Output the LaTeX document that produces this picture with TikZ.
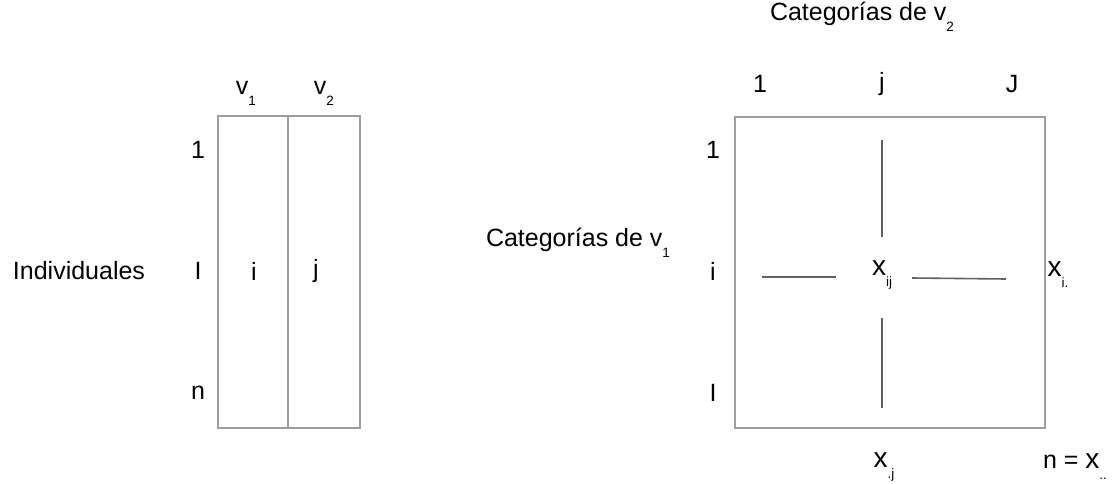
\documentclass[tikz,border=0pt]{standalone}
\usepackage{fontspec}
\setmainfont{Liberation Sans}
\usepackage{tikz}
\tikzset{every picture/.style={line width=0.5pt}}
\tikzset{
  lbl/.style={font=\fontsize{25}{28}\selectfont, inner sep=0pt},
  xlbl/.style={font=\fontsize{28}{30}\selectfont, inner sep=0pt},
  boxline/.style={draw=black!38, line width=1.8pt},
  crossline/.style={draw=black!62, line width=1.6pt}
}
\newcommand{\lowsub}[1]{\raisebox{-11pt}{\fontsize{13.5}{15}\selectfont #1}}

\begin{document}
\begin{tikzpicture}[x=1pt,y=-1pt]
\useasboundingbox (0,0) rectangle (1114,484);
% left table
\draw[boxline] (218,116) rectangle (360,428);
\draw[boxline] (288,116) -- (288,428);
\node[lbl] (v1) at (246,93) {v\lowsub{1}};
\node[lbl] (v2) at (324,93) {v\lowsub{2}};
\node[lbl] (ind) at (79,271) {Individuales};
\node[lbl] (r1) at (198,150) {1};
\node[lbl] (rI) at (198,271) {I};
\node[lbl] (rn) at (198,393) {n};
\node[lbl] (ci) at (254,271) {i};
\node[lbl] (cj) at (316,271) {j};
% right table
\draw[boxline] (735,117) rectangle (1045,428);
\node[lbl] (cat2) at (862,17) {Categorías de v\lowsub{2}};
\node[lbl] (cat1) at (578,243) {Categorías de v\lowsub{1}};
\node[lbl] (k1) at (760,84) {1};
\node[lbl] (kj) at (882,84) {j};
\node[lbl] (kJ) at (1012,84) {J};
\node[lbl] (l1) at (713,150) {1};
\node[lbl] (li) at (713,271) {i};
\node[lbl] (lI) at (713,393) {I};
\node[xlbl] (xij) at (882,275) {x\lowsub{ij}};
\node[xlbl] (xi) at (1058,275) {x\lowsub{i.}};
\node[xlbl] (xj) at (884,467) {x\lowsub{.j}};
\node[lbl] (nx) at (1075,467) {n = {\fontsize{28}{30}\selectfont x}\lowsub{..}};
\coordinate (hl0) at (762,277);
\coordinate (hl1) at (836,277);
\coordinate (hr0) at (912,278);
\coordinate (hr1) at (1006,279);
\coordinate (vt0) at (882,140);
\coordinate (vt1) at (882,237);
\coordinate (vb0) at (882,318);
\coordinate (vb1) at (882,408);
\draw[crossline] (hl0) -- (hl1);
\draw[crossline] (hr0) -- (hr1);
\draw[crossline] (vt0) -- (vt1);
\draw[crossline] (vb0) -- (vb1);
\end{tikzpicture}
\end{document}
